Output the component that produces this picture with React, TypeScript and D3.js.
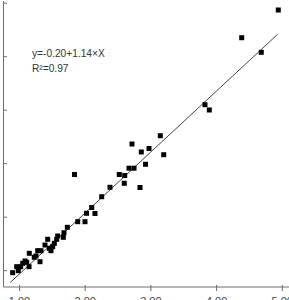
import React from "react";
import * as d3 from "d3";

const xValues = [
  0.896, 0.957, 0.982, 1.018, 1.049, 1.084, 1.11, 1.145, 1.149, 1.225,
  1.251, 1.277, 1.312, 1.327, 1.388, 1.429, 1.454, 1.479, 1.505, 1.53,
  1.566, 1.581, 1.667, 1.677, 1.728, 1.837, 1.886, 1.997, 2.02, 2.099,
  2.149, 2.251, 2.377, 2.519, 2.595, 2.601, 2.667, 2.743, 2.712, 2.834,
  2.854, 2.918, 2.971, 3.143, 3.195, 3.823, 3.889, 4.382, 4.68, 4.939,
];
const yValues = [
  0.963, 1.075, 1.0, 1.075, 1.138, 1.181, 1.157, 1.075, 1.325, 1.25,
  1.275, 1.374, 1.168, 1.374, 1.48, 1.587, 1.419, 1.374, 1.449, 1.512,
  1.587, 1.649, 1.624, 1.71, 1.811, 2.798, 1.916, 1.916, 2.073, 2.181,
  2.069, 2.383, 2.559, 2.798, 2.634, 2.779, 2.916, 2.916, 3.368, 2.555,
  3.219, 2.989, 3.284, 3.523, 3.168, 4.103, 4.004, 5.355, 5.082, 5.873,
];
const xTicks = [1, 2, 3, 4, 5];
const yTicks = [1, 2, 3, 4, 5, 6];
const intercept = -0.2;
const slope = 1.14;
const fitRange = [0.86, 4.93];
const equationLabel = "y=-0.20+1.14\u00d7X";
const r2Label = "R\u00b2=0.97";

export default function App() {
  const W = 289;
  const H = 300;
  const x = d3.scaleLinear().domain([1, 5]).range([19.5, 282.3]);
  const y = d3.scaleLinear().domain([1, 6]).range([270.7, 3.2]);
  const axisX = 3.5;
  const axisY = 287;
  const pts = xValues.map((v, i) => ({ x: v, y: yValues[i] }));
  const line = d3
    .line<number>()
    .x((d) => x(d))
    .y((d) => y(intercept + slope * d));
  const axisColor = "#6e6e6e";
  const sz = 5;
  return (
    <svg
      width={W}
      height={H}
      style={{ position: "absolute", left: 0, top: 0, background: "#fff" }}
      fontFamily="'Liberation Sans', Arial, sans-serif"
    >
      {/* axes */}
      <line x1={axisX} x2={axisX} y1={1} y2={axisY} stroke={axisColor} strokeWidth={1} />
      <line x1={axisX} x2={W + 10} y1={axisY} y2={axisY} stroke={axisColor} strokeWidth={1} />
      {yTicks.map((t) => (
        <line key={"yt" + t} x1={axisX} x2={axisX + 3.5} y1={y(t)} y2={y(t)} stroke={axisColor} strokeWidth={1} />
      ))}
      {xTicks.map((t) => (
        <line key={"xt" + t} x1={x(t)} x2={x(t)} y1={axisY - 2} y2={axisY + 4} stroke={axisColor} strokeWidth={1} />
      ))}
      {xTicks.map((t) => (
        <text key={"xl" + t} x={x(t)} y={304.5} textAnchor="middle" fontSize={11} fill="#444">
          {t.toFixed(2)}
        </text>
      ))}
      {/* fit line */}
      <path d={line(fitRange) || ""} stroke="#444" strokeWidth={1} fill="none" />
      {/* points */}
      {pts.map((p, i) => (
        <rect
          key={"p" + i}
          x={x(p.x) - sz / 2}
          y={y(p.y) - sz / 2}
          width={sz}
          height={sz}
          fill="#000"
        />
      ))}
      {/* annotation */}
      <text x={32} y={56.5} fontSize={10.2} fill="#333">
        {equationLabel}
      </text>
      <text x={32} y={72} fontSize={10.2} fill="#333">
        {r2Label}
      </text>
    </svg>
  );
}
